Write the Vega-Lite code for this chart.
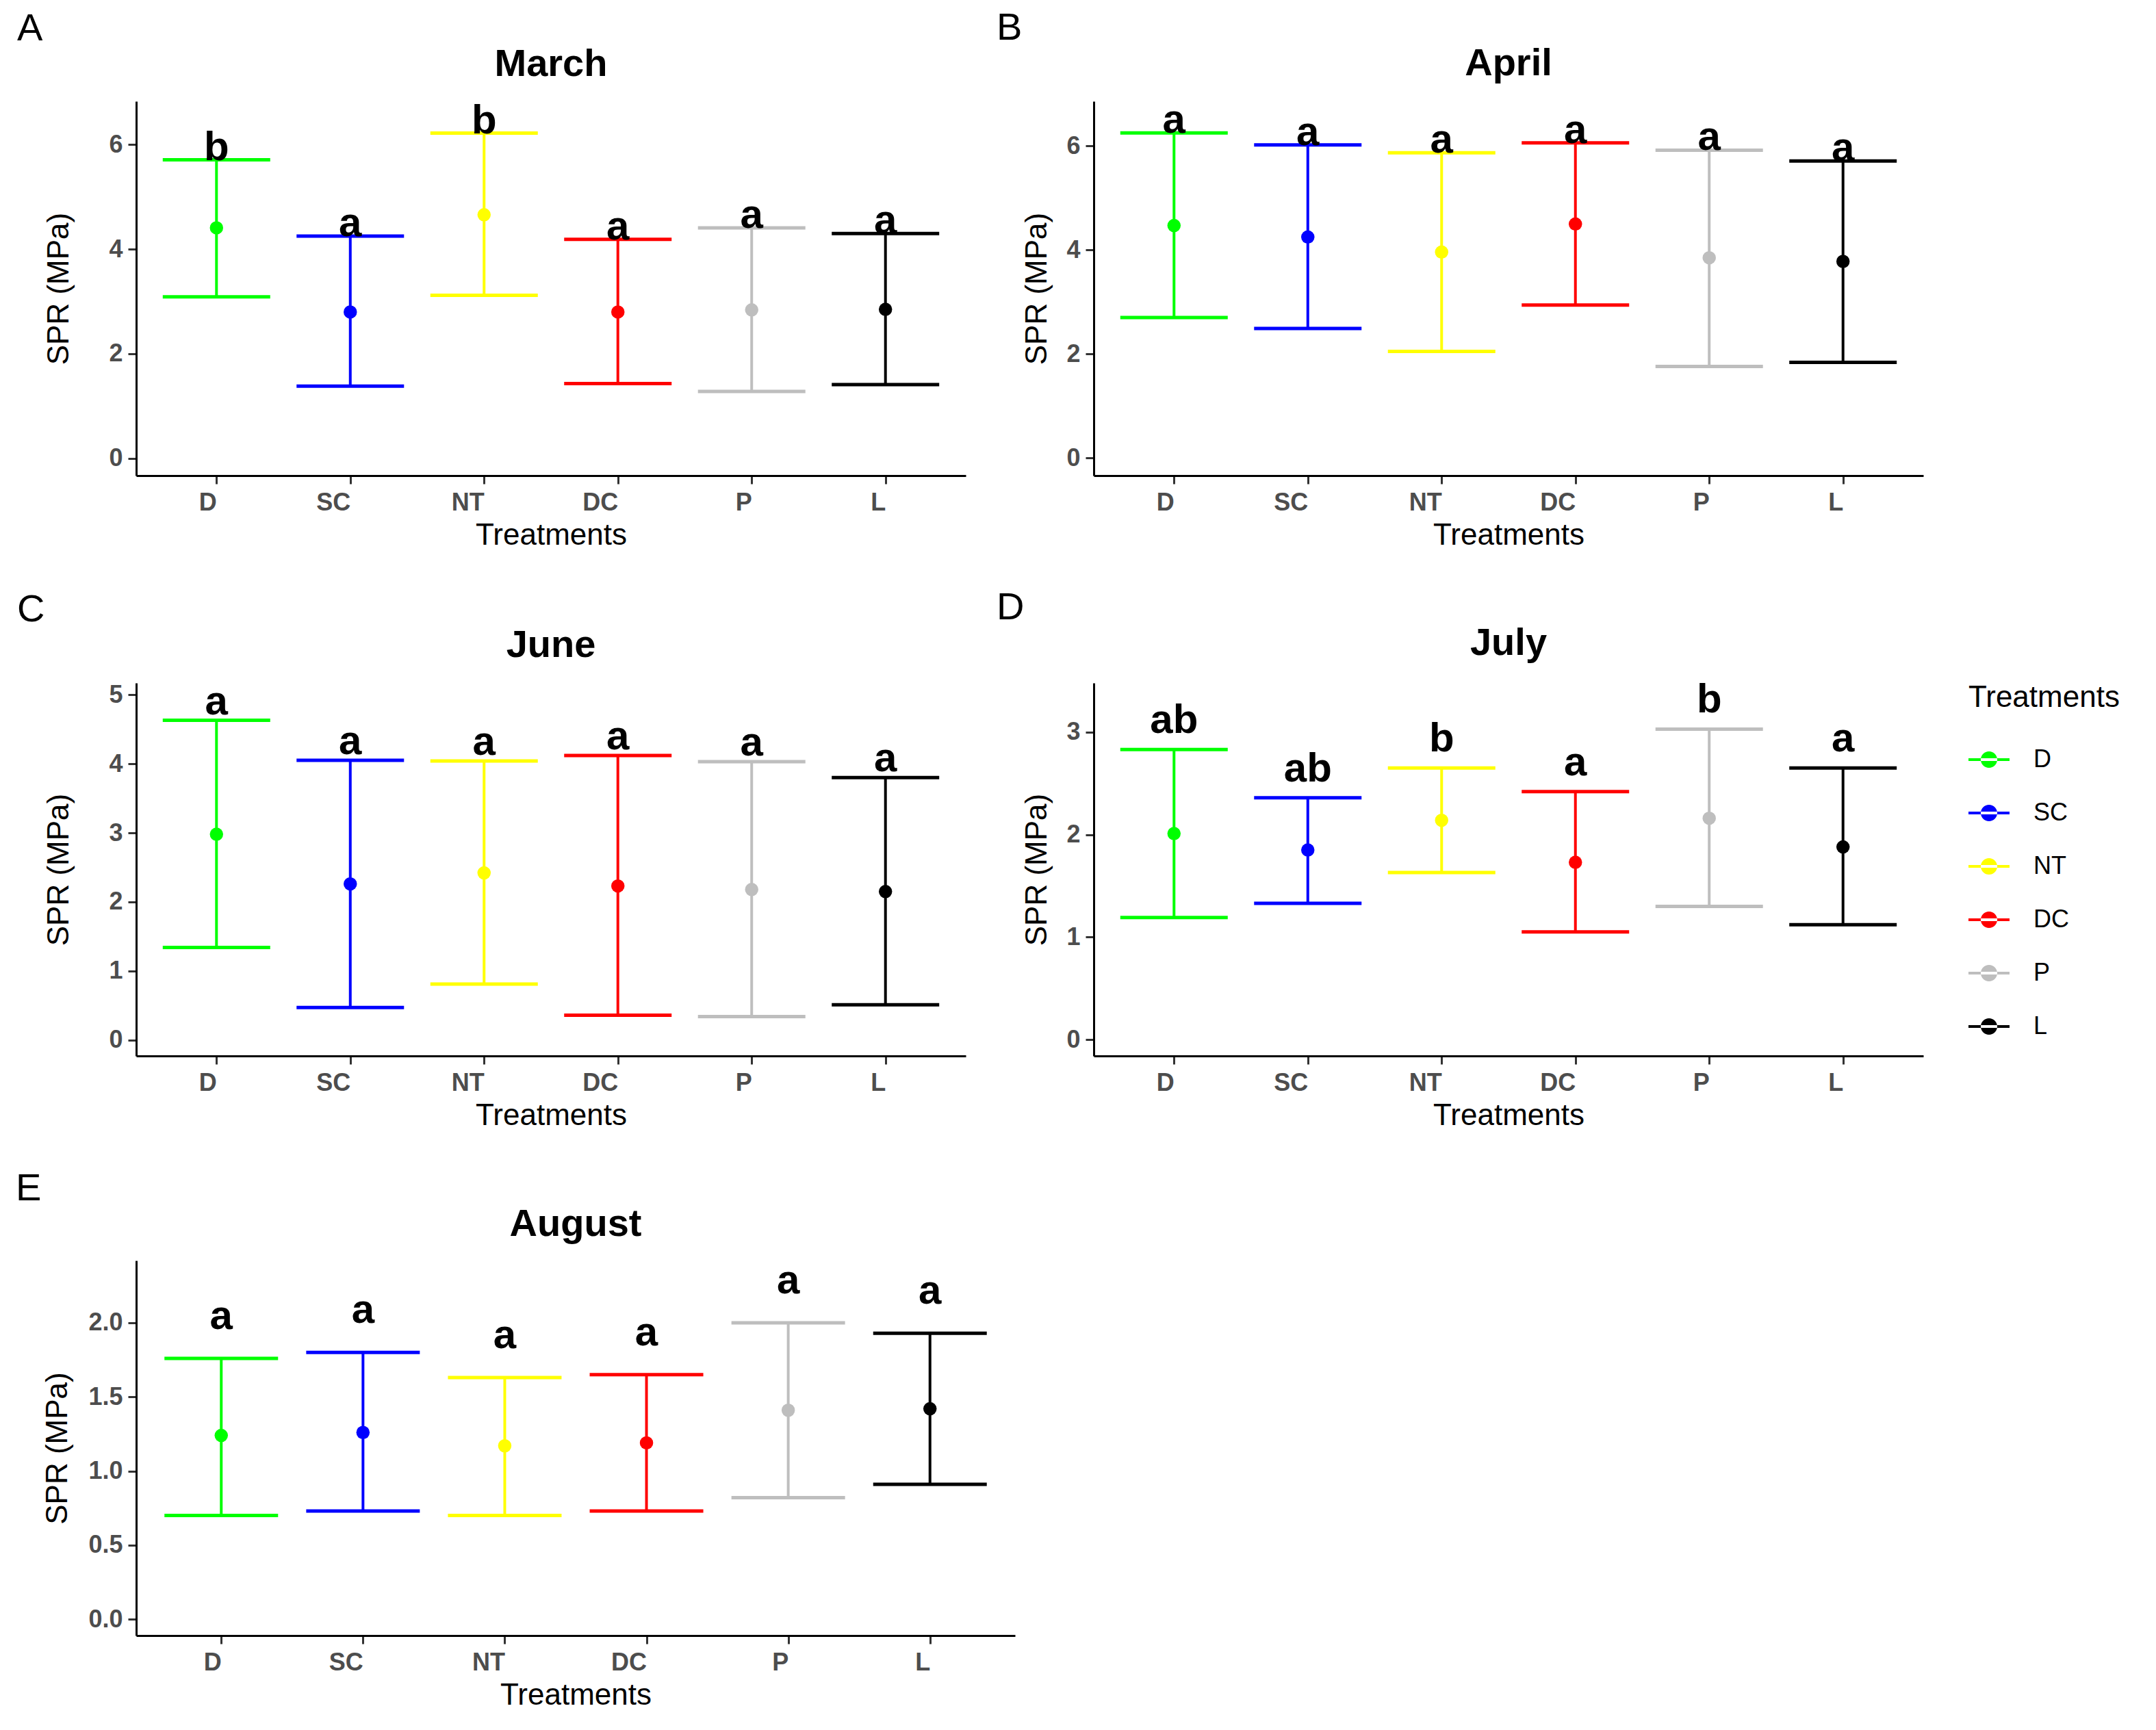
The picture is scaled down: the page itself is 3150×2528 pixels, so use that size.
{
  "$schema": "https://vega.github.io/schema/vega-lite/v6.json",
  "background": "white",
  "padding": {"left": 22, "top": 13, "right": 5, "bottom": 5},
  "config": {
    "font": "Liberation Sans",
    "view": {"stroke": null},
    "axis": {
      "grid": false,
      "domainColor": "black",
      "domainWidth": 3,
      "tickColor": "#333333",
      "tickWidth": 3,
      "tickSize": 12,
      "labelFont": "Liberation Sans",
      "labelFontSize": 36,
      "labelFontWeight": "bold",
      "labelColor": "#4D4D4D",
      "labelPadding": 8,
      "titleFont": "Liberation Sans",
      "titleFontSize": 44,
      "titleFontWeight": "normal",
      "titleColor": "black"
    },
    "axisX": {"labelAngle": 0, "labelAlign": "right", "labelPadding": 10, "titlePadding": 8},
    "title": {"fontSize": 56, "fontWeight": "bold", "color": "black", "offset": 24},
    "concat": {"spacing": 56}
  },
  "datasets": {
    "spr": [
      {"month": "March", "trt": "D", "mean": 4.41, "lower": 3.09, "upper": 5.71, "letter": "b"},
      {"month": "March", "trt": "SC", "mean": 2.80, "lower": 1.38, "upper": 4.25, "letter": "a"},
      {"month": "March", "trt": "NT", "mean": 4.66, "lower": 3.12, "upper": 6.22, "letter": "b"},
      {"month": "March", "trt": "DC", "mean": 2.80, "lower": 1.43, "upper": 4.19, "letter": "a"},
      {"month": "March", "trt": "P", "mean": 2.84, "lower": 1.28, "upper": 4.41, "letter": "a"},
      {"month": "March", "trt": "L", "mean": 2.85, "lower": 1.41, "upper": 4.30, "letter": "a"},
      {"month": "April", "trt": "D", "mean": 4.47, "lower": 2.70, "upper": 6.25, "letter": "a"},
      {"month": "April", "trt": "SC", "mean": 4.25, "lower": 2.49, "upper": 6.02, "letter": "a"},
      {"month": "April", "trt": "NT", "mean": 3.96, "lower": 2.05, "upper": 5.87, "letter": "a"},
      {"month": "April", "trt": "DC", "mean": 4.50, "lower": 2.94, "upper": 6.06, "letter": "a"},
      {"month": "April", "trt": "P", "mean": 3.85, "lower": 1.76, "upper": 5.92, "letter": "a"},
      {"month": "April", "trt": "L", "mean": 3.78, "lower": 1.84, "upper": 5.71, "letter": "a"},
      {"month": "June", "trt": "D", "mean": 2.98, "lower": 1.34, "upper": 4.63, "letter": "a"},
      {"month": "June", "trt": "SC", "mean": 2.26, "lower": 0.47, "upper": 4.05, "letter": "a"},
      {"month": "June", "trt": "NT", "mean": 2.42, "lower": 0.81, "upper": 4.04, "letter": "a"},
      {"month": "June", "trt": "DC", "mean": 2.23, "lower": 0.36, "upper": 4.12, "letter": "a"},
      {"month": "June", "trt": "P", "mean": 2.18, "lower": 0.34, "upper": 4.03, "letter": "a"},
      {"month": "June", "trt": "L", "mean": 2.15, "lower": 0.51, "upper": 3.80, "letter": "a"},
      {"month": "July", "trt": "D", "mean": 2.01, "lower": 1.19, "upper": 2.83, "letter": "ab"},
      {"month": "July", "trt": "SC", "mean": 1.85, "lower": 1.33, "upper": 2.36, "letter": "ab"},
      {"month": "July", "trt": "NT", "mean": 2.14, "lower": 1.63, "upper": 2.65, "letter": "b"},
      {"month": "July", "trt": "DC", "mean": 1.73, "lower": 1.05, "upper": 2.42, "letter": "a"},
      {"month": "July", "trt": "P", "mean": 2.16, "lower": 1.30, "upper": 3.03, "letter": "b"},
      {"month": "July", "trt": "L", "mean": 1.88, "lower": 1.12, "upper": 2.65, "letter": "a"},
      {"month": "August", "trt": "D", "mean": 1.24, "lower": 0.70, "upper": 1.76, "letter": "a"},
      {"month": "August", "trt": "SC", "mean": 1.26, "lower": 0.73, "upper": 1.80, "letter": "a"},
      {"month": "August", "trt": "NT", "mean": 1.17, "lower": 0.70, "upper": 1.63, "letter": "a"},
      {"month": "August", "trt": "DC", "mean": 1.19, "lower": 0.73, "upper": 1.65, "letter": "a"},
      {"month": "August", "trt": "P", "mean": 1.41, "lower": 0.82, "upper": 2.00, "letter": "a"},
      {"month": "August", "trt": "L", "mean": 1.42, "lower": 0.91, "upper": 1.93, "letter": "a"}
    ]
  },
  "resolve": {"scale": {"color": "independent"}, "legend": {"color": "independent"}},
  "vconcat": [
    {
      "resolve": {"scale": {"color": "independent"}, "legend": {"color": "independent"}},
      "spacing": 44,
      "hconcat": [
        {
          "title": {"text": "A", "anchor": "start", "frame": "bounds", "fontSize": 56, "fontWeight": "normal", "dx": -40, "offset": -5},
          "resolve": {"scale": {"color": "independent"}, "legend": {"color": "independent"}},
          "vconcat": [
            {
              "title": "March",
              "width": 1212,
              "height": 547,
              "data": {"name": "spr"},
              "transform": [{"filter": "datum.month === 'March'"}],
              "encoding": {
                "x": {"field": "trt", "type": "nominal", "sort": ["D", "SC", "NT", "DC", "P", "L"], "scale": {"type": "point", "padding": 0.6}, "axis": {"title": "Treatments"}},
                "color": {"field": "trt", "type": "nominal", "scale": {"domain": ["D", "SC", "NT", "DC", "P", "L"], "range": ["#00FF00", "#0000FF", "#FFFF00", "#FF0000", "#BEBEBE", "#000000"]}, "legend": null}
              },
              "layer": [
                {"mark": {"type": "rule", "strokeWidth": 4}, "encoding": {"y": {"field": "lower", "type": "quantitative", "title": "SPR (MPa)", "scale": {"domain": [-0.33, 6.83], "nice": false, "zero": false}, "axis": {"values": [0, 2, 4, 6], "format": "d", "titlePadding": 50}}, "y2": {"field": "upper"}}},
                {"mark": {"type": "tick", "size": 157, "thickness": 5, "opacity": 1}, "encoding": {"y": {"field": "upper", "type": "quantitative", "title": "SPR (MPa)"}}},
                {"mark": {"type": "tick", "size": 157, "thickness": 5, "opacity": 1}, "encoding": {"y": {"field": "lower", "type": "quantitative", "title": "SPR (MPa)"}}},
                {"mark": {"type": "point", "filled": true, "size": 380, "opacity": 1}, "encoding": {"y": {"field": "mean", "type": "quantitative", "title": "SPR (MPa)"}}},
                {"mark": {"type": "text", "fontSize": 60, "fontWeight": "bold", "baseline": "alphabetic", "dy": 0}, "encoding": {"y": {"field": "upper", "type": "quantitative", "title": "SPR (MPa)"}, "text": {"field": "letter"}, "color": {"value": "black"}}}
              ]
            }
          ]
        },
        {
          "title": {"text": "B", "anchor": "start", "frame": "bounds", "fontSize": 56, "fontWeight": "normal", "dx": -38, "offset": -5},
          "resolve": {"scale": {"color": "independent"}, "legend": {"color": "independent"}},
          "vconcat": [
            {
              "title": "April",
              "width": 1212,
              "height": 547,
              "data": {"name": "spr"},
              "transform": [{"filter": "datum.month === 'April'"}],
              "encoding": {
                "x": {"field": "trt", "type": "nominal", "sort": ["D", "SC", "NT", "DC", "P", "L"], "scale": {"type": "point", "padding": 0.6}, "axis": {"title": "Treatments"}},
                "color": {"field": "trt", "type": "nominal", "scale": {"domain": ["D", "SC", "NT", "DC", "P", "L"], "range": ["#00FF00", "#0000FF", "#FFFF00", "#FF0000", "#BEBEBE", "#000000"]}, "legend": null}
              },
              "layer": [
                {"mark": {"type": "rule", "strokeWidth": 4}, "encoding": {"y": {"field": "lower", "type": "quantitative", "title": "SPR (MPa)", "scale": {"domain": [-0.34, 6.86], "nice": false, "zero": false}, "axis": {"values": [0, 2, 4, 6], "format": "d", "titlePadding": 20}}, "y2": {"field": "upper"}}},
                {"mark": {"type": "tick", "size": 157, "thickness": 5, "opacity": 1}, "encoding": {"y": {"field": "upper", "type": "quantitative", "title": "SPR (MPa)"}}},
                {"mark": {"type": "tick", "size": 157, "thickness": 5, "opacity": 1}, "encoding": {"y": {"field": "lower", "type": "quantitative", "title": "SPR (MPa)"}}},
                {"mark": {"type": "point", "filled": true, "size": 380, "opacity": 1}, "encoding": {"y": {"field": "mean", "type": "quantitative", "title": "SPR (MPa)"}}},
                {"mark": {"type": "text", "fontSize": 60, "fontWeight": "bold", "baseline": "alphabetic", "dy": 0}, "encoding": {"y": {"field": "upper", "type": "quantitative", "title": "SPR (MPa)"}, "text": {"field": "letter"}, "color": {"value": "black"}}}
              ]
            }
          ]
        }
      ]
    },
    {
      "resolve": {"scale": {"color": "independent"}, "legend": {"color": "independent"}},
      "spacing": 44,
      "hconcat": [
        {
          "title": {"text": "C", "anchor": "start", "frame": "bounds", "fontSize": 56, "fontWeight": "normal", "dx": -40, "offset": -5},
          "resolve": {"scale": {"color": "independent"}, "legend": {"color": "independent"}},
          "vconcat": [
            {
              "title": "June",
              "width": 1212,
              "height": 545,
              "data": {"name": "spr"},
              "transform": [{"filter": "datum.month === 'June'"}],
              "encoding": {
                "x": {"field": "trt", "type": "nominal", "sort": ["D", "SC", "NT", "DC", "P", "L"], "scale": {"type": "point", "padding": 0.6}, "axis": {"title": "Treatments"}},
                "color": {"field": "trt", "type": "nominal", "scale": {"domain": ["D", "SC", "NT", "DC", "P", "L"], "range": ["#00FF00", "#0000FF", "#FFFF00", "#FF0000", "#BEBEBE", "#000000"]}, "legend": null}
              },
              "layer": [
                {"mark": {"type": "rule", "strokeWidth": 4}, "encoding": {"y": {"field": "lower", "type": "quantitative", "title": "SPR (MPa)", "scale": {"domain": [-0.23, 5.17], "nice": false, "zero": false}, "axis": {"values": [0, 1, 2, 3, 4, 5], "format": "d", "titlePadding": 50}}, "y2": {"field": "upper"}}},
                {"mark": {"type": "tick", "size": 157, "thickness": 5, "opacity": 1}, "encoding": {"y": {"field": "upper", "type": "quantitative", "title": "SPR (MPa)"}}},
                {"mark": {"type": "tick", "size": 157, "thickness": 5, "opacity": 1}, "encoding": {"y": {"field": "lower", "type": "quantitative", "title": "SPR (MPa)"}}},
                {"mark": {"type": "point", "filled": true, "size": 380, "opacity": 1}, "encoding": {"y": {"field": "mean", "type": "quantitative", "title": "SPR (MPa)"}}},
                {"mark": {"type": "text", "fontSize": 60, "fontWeight": "bold", "baseline": "alphabetic", "dy": -9}, "encoding": {"y": {"field": "upper", "type": "quantitative", "title": "SPR (MPa)"}, "text": {"field": "letter"}, "color": {"value": "black"}}}
              ]
            }
          ]
        },
        {
          "title": {"text": "D", "anchor": "start", "frame": "bounds", "fontSize": 56, "fontWeight": "normal", "dx": -38, "offset": -5},
          "resolve": {"scale": {"color": "independent"}, "legend": {"color": "independent"}},
          "vconcat": [
            {
              "title": "July",
              "width": 1212,
              "height": 545,
              "data": {"name": "spr"},
              "transform": [{"filter": "datum.month === 'July'"}],
              "encoding": {
                "x": {"field": "trt", "type": "nominal", "sort": ["D", "SC", "NT", "DC", "P", "L"], "scale": {"type": "point", "padding": 0.6}, "axis": {"title": "Treatments"}},
                "color": {"field": "trt", "type": "nominal", "scale": {"domain": ["D", "SC", "NT", "DC", "P", "L"], "range": ["#00FF00", "#0000FF", "#FFFF00", "#FF0000", "#BEBEBE", "#000000"]}, "legend": {"title": "Treatments", "titleFontSize": 44, "titleFontWeight": "normal", "titleColor": "black", "titleFont": "Liberation Sans", "titleLimit": 1000, "titlePadding": 38, "labelFont": "Liberation Sans", "labelFontSize": 36, "labelColor": "black", "labelLimit": 1000, "symbolType": "M-1,-0.07L1,-0.07L1,0.07L-1,0.07Z M-0.4,0A0.4,0.4,0,1,0,0.4,0A0.4,0.4,0,1,0,-0.4,0Z", "symbolSize": 3600, "symbolStrokeWidth": 0, "symbolOpacity": 1, "rowPadding": 30, "labelOffset": 35, "offset": 66}}
              },
              "layer": [
                {"mark": {"type": "rule", "strokeWidth": 4}, "encoding": {"y": {"field": "lower", "type": "quantitative", "title": "SPR (MPa)", "scale": {"domain": [-0.16, 3.48], "nice": false, "zero": false}, "axis": {"values": [0, 1, 2, 3], "format": "d", "titlePadding": 20}}, "y2": {"field": "upper"}}},
                {"mark": {"type": "tick", "size": 157, "thickness": 5, "opacity": 1}, "encoding": {"y": {"field": "upper", "type": "quantitative", "title": "SPR (MPa)"}}},
                {"mark": {"type": "tick", "size": 157, "thickness": 5, "opacity": 1}, "encoding": {"y": {"field": "lower", "type": "quantitative", "title": "SPR (MPa)"}}},
                {"mark": {"type": "point", "filled": true, "size": 380, "opacity": 1}, "encoding": {"y": {"field": "mean", "type": "quantitative", "title": "SPR (MPa)"}}},
                {"mark": {"type": "text", "fontSize": 60, "fontWeight": "bold", "baseline": "alphabetic", "dy": -24}, "encoding": {"y": {"field": "upper", "type": "quantitative", "title": "SPR (MPa)"}, "text": {"field": "letter"}, "color": {"value": "black"}}}
              ]
            }
          ]
        }
      ]
    },
    {
      "resolve": {"scale": {"color": "independent"}, "legend": {"color": "independent"}},
      "hconcat": [
        {
          "title": {"text": "E", "anchor": "start", "frame": "bounds", "fontSize": 56, "fontWeight": "normal", "dx": -40, "offset": -5},
          "resolve": {"scale": {"color": "independent"}, "legend": {"color": "independent"}},
          "vconcat": [
            {
              "title": "August",
              "width": 1284,
              "height": 548,
              "data": {"name": "spr"},
              "transform": [{"filter": "datum.month === 'August'"}],
              "encoding": {
                "x": {"field": "trt", "type": "nominal", "sort": ["D", "SC", "NT", "DC", "P", "L"], "scale": {"type": "point", "padding": 0.6}, "axis": {"title": "Treatments"}},
                "color": {"field": "trt", "type": "nominal", "scale": {"domain": ["D", "SC", "NT", "DC", "P", "L"], "range": ["#00FF00", "#0000FF", "#FFFF00", "#FF0000", "#BEBEBE", "#000000"]}, "legend": null}
              },
              "layer": [
                {"mark": {"type": "rule", "strokeWidth": 4}, "encoding": {"y": {"field": "lower", "type": "quantitative", "title": "SPR (MPa)", "scale": {"domain": [-0.11, 2.42], "nice": false, "zero": false}, "axis": {"values": [0, 0.5, 1, 1.5, 2], "format": ".1f", "titlePadding": 22}}, "y2": {"field": "upper"}}},
                {"mark": {"type": "tick", "size": 166, "thickness": 5, "opacity": 1}, "encoding": {"y": {"field": "upper", "type": "quantitative", "title": "SPR (MPa)"}}},
                {"mark": {"type": "tick", "size": 166, "thickness": 5, "opacity": 1}, "encoding": {"y": {"field": "lower", "type": "quantitative", "title": "SPR (MPa)"}}},
                {"mark": {"type": "point", "filled": true, "size": 380, "opacity": 1}, "encoding": {"y": {"field": "mean", "type": "quantitative", "title": "SPR (MPa)"}}},
                {"mark": {"type": "text", "fontSize": 60, "fontWeight": "bold", "baseline": "alphabetic", "dy": -43}, "encoding": {"y": {"field": "upper", "type": "quantitative", "title": "SPR (MPa)"}, "text": {"field": "letter"}, "color": {"value": "black"}}}
              ]
            }
          ]
        }
      ]
    }
  ]
}
